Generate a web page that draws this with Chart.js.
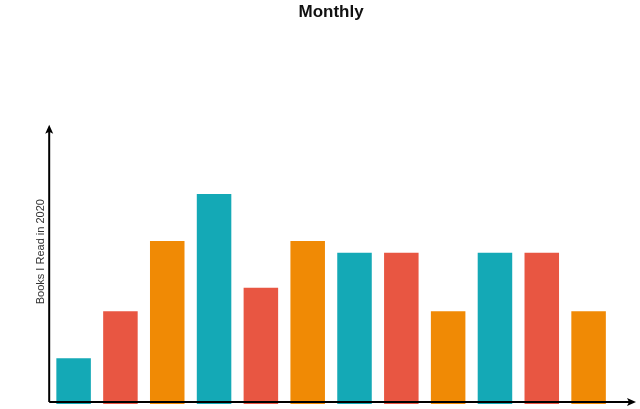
<!DOCTYPE html>
<html>
<head>
<meta charset="utf-8">
<script src="https://cdn.jsdelivr.net/npm/chart.js@4"></script>
<style>
  html, body { margin: 0; padding: 0; background: #fff; }
  #wrap { width: 640px; height: 409px; }
</style>
</head>
<body>
<div id="wrap"><canvas id="booksChart"></canvas></div>
<script>
const months = ["Jan", "Feb", "Mar", "Apr", "May", "Jun", "Jul", "Aug", "Sep", "Oct", "Nov", "Dec"];
const booksRead = [4, 8, 14, 18, 10, 14, 13, 13, 8, 13, 13, 8];
const palette = ["#14a9b6", "#e85642", "#f08a05"];

// axes with arrow heads, drawn on top of the bars
const arrowAxes = {
    id: "arrowAxes",
    afterDatasetsDraw(chart) {
        const { ctx, chartArea } = chart;
        const y = chart.scales.y;
        const x0 = chartArea.left - 1;
        const y0 = y.getPixelForValue(0) - 2;
        const yTop = y.getPixelForValue(24) + 2;
        const xEnd = chart.width - 4;
        ctx.save();
        ctx.strokeStyle = "#000";
        ctx.fillStyle = "#000";
        ctx.lineWidth = 2;
        ctx.beginPath();
        ctx.moveTo(x0, y0);
        ctx.lineTo(x0, yTop + 6);
        ctx.moveTo(x0, y0);
        ctx.lineTo(xEnd - 6, y0);
        ctx.stroke();
        ctx.beginPath();
        ctx.moveTo(x0, yTop);
        ctx.lineTo(x0 - 4, yTop + 9);
        ctx.lineTo(x0, yTop + 7);
        ctx.lineTo(x0 + 4, yTop + 9);
        ctx.closePath();
        ctx.fill();
        ctx.beginPath();
        ctx.moveTo(xEnd, y0);
        ctx.lineTo(xEnd - 9, y0 - 4);
        ctx.lineTo(xEnd - 7, y0);
        ctx.lineTo(xEnd - 9, y0 + 4);
        ctx.closePath();
        ctx.fill();
        ctx.restore();
    }
};

new Chart(document.getElementById("booksChart"), {
    type: "bar",
    data: {
        labels: months,
        datasets: [{
            label: "Books I Read in 2020",
            data: booksRead,
            backgroundColor: months.map((m, i) => palette[i % 3]),
            borderColor: "rgba(255,255,255,0.45)",
            borderWidth: 1,
            categoryPercentage: 0.78,
            barPercentage: 1,
        }],
    },
    options: {
        responsive: true,
        maintainAspectRatio: false,
        animation: false,
        layout: { padding: { left: 24, right: 28, top: 0, bottom: 5 } },
        plugins: {
            legend: { display: false },
            tooltip: { enabled: false },
            title: {
                display: true,
                fullSize: false,
                text: "Monthly",
                color: "#111",
                font: { family: "'Liberation Sans', Arial, sans-serif", size: 17, weight: "bold" },
                padding: { top: 2, bottom: 77 },
            },
        },
        scales: {
            x: {
                display: false,
            },
            y: {
                min: 0,
                max: 26,
                grid: { display: false, drawTicks: false },
                border: { display: false },
                ticks: { display: false, padding: 0 },
                title: {
                    display: true,
                    text: "Books I Read in 2020",
                    color: "#333",
                    font: { family: "'Liberation Sans', Arial, sans-serif", size: 11 },
                    padding: { top: 10, bottom: 3 },
                },
            },
        },
    },
    plugins: [arrowAxes],
});
</script>
</body>
</html>
